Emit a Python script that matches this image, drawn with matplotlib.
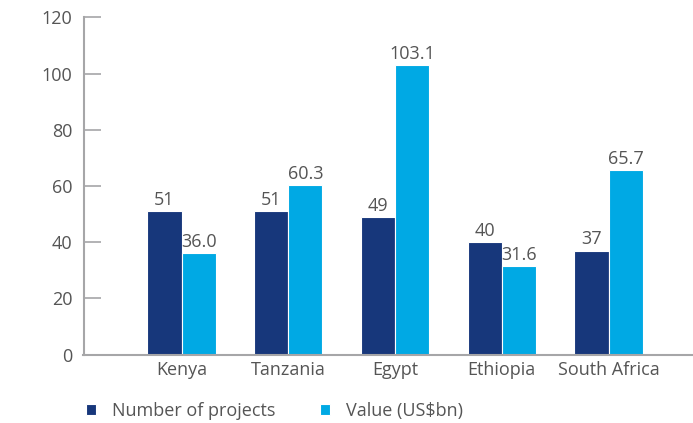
import numpy as np
import matplotlib
matplotlib.use("Agg")
import matplotlib.pyplot as plt

countries = ["Kenya", "Tanzania", "Egypt", "Ethiopia", "South Africa"]
num_projects = [51, 51, 49, 40, 37]
value_bn = [36.0, 60.3, 103.1, 31.6, 65.7]
project_labels = ["51", "51", "49", "40", "37"]
value_labels = ["36.0", "60.3", "103.1", "31.6", "65.7"]

navy = "#17377b"
cyan = "#00a9e4"
text_col = "#555555"
axis_col = "#a6a6a8"

plt.rcParams["font.family"] = ["Open Sans", "DejaVu Sans"]

fig = plt.figure(figsize=(6.93, 4.23), dpi=100)
W, H = 693, 423
ax = fig.add_axes([83.5 / W, 1 - 354.5 / H, (W - 83.5) / W, (354.5 - 17.3) / H])

x = np.arange(len(countries))
bw = 0.32
b1 = ax.bar(x - bw / 2, num_projects, bw, color=navy, edgecolor="white",
            linewidth=0.8, label="Number of projects")
b2 = ax.bar(x + bw / 2, value_bn, bw, color=cyan, edgecolor="white",
            linewidth=0.8, label="Value (US$bn)")

for bars, labels in ((b1, project_labels), (b2, value_labels)):
    for rect, lab in zip(bars, labels):
        ax.annotate(lab, (rect.get_x() + rect.get_width() / 2, rect.get_height()),
                    xytext=(0, 1.5), textcoords="offset points",
                    ha="center", va="bottom", fontsize=13, color=text_col)

ax.set_xlim(-0.918, 4.79)
ax.set_ylim(0, 120)
ax.set_yticks(range(0, 121, 20))
ax.set_xticks(x)
ax.set_xticklabels(countries)

for side in ("top", "right"):
    ax.spines[side].set_visible(False)
for side in ("left", "bottom"):
    ax.spines[side].set_color(axis_col)
    ax.spines[side].set_linewidth(1.5)

ax.tick_params(axis="y", direction="in", length=12, width=1.2, color=axis_col,
               pad=8, labelsize=13, labelcolor=text_col)
ax.tick_params(axis="x", length=0, pad=5, labelsize=13, labelcolor=text_col)

leg = fig.legend(handles=[b1, b2], loc="center left",
                 bbox_to_anchor=(70 / W, 1 - 411 / H), ncol=2, frameon=False,
                 fontsize=13, handlelength=0.55, handleheight=0.55,
                 handletextpad=0.9, columnspacing=2.45)
for t in leg.get_texts():
    t.set_color(text_col)

fig.savefig("out.png", dpi=100)
